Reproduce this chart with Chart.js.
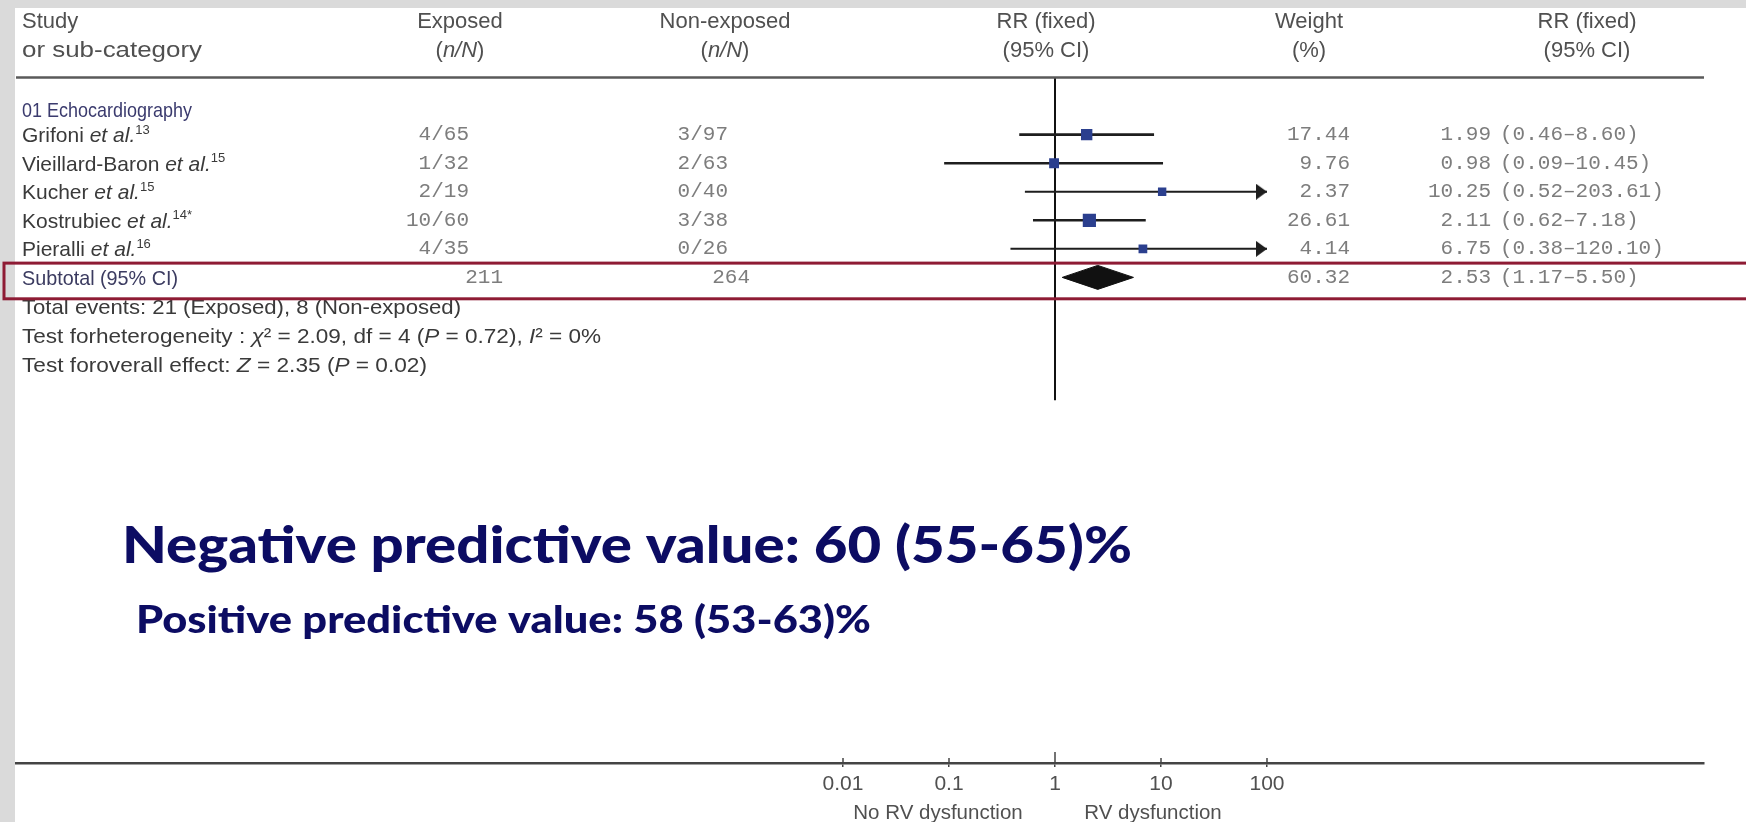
<!DOCTYPE html>
<html lang="en">
<head>
<meta charset="UTF-8">
<title>RV dysfunction – forest plot</title>
<script src="https://cdn.jsdelivr.net/npm/chart.js"></script>
<style>
  html, body { margin: 0; padding: 0; background: #ffffff; }
  #wrap { width: 1746px; height: 822px; }
</style>
</head>
<body>
<div id="wrap"><canvas id="forest" width="1746" height="822"></canvas></div>
<script>
// study rows, top to bottom
const studies = ['Grifoni', 'Vieillard-Baron', 'Kucher', 'Kostrubiec', 'Pieralli'];
const refs = ['13', '15', '15', '14*', '16'];
const exposed = ['4/65', '1/32', '2/19', '10/60', '4/35'];
const nonExposed = ['3/97', '2/63', '0/40', '3/38', '0/26'];
const weights = [17.44, 9.76, 2.37, 26.61, 4.14];
const rr = [1.99, 0.98, 10.25, 2.11, 6.75];
const ciLow = [0.46, 0.09, 0.52, 0.62, 0.38];
const ciHigh = [8.60, 10.45, 203.61, 7.18, 120.10];

// subtotal row
const subExposed = 211;
const subNonExposed = 264;
const subWeight = 60.32;
const subRR = 2.53;
const subLow = 1.17;
const subHigh = 5.50;

// axis
const tickValues = [0.01, 0.1, 1, 10, 100];
const tickLabels = ['0.01', '0.1', '1', '10', '100'];
const plotMax = 100; // CIs beyond this get an arrow

const footnotes = [
  [['Total events: 21 (Exposed), 8 (Non-exposed)', 'n']],
  [['Test forheterogeneity : ', 'n'], ['χ', 'i'], ['² = 2.09, df = 4 (', 'n'], ['P', 'i'], [' = 0.72), ', 'n'], ['I', 'i'], ['² = 0%', 'n']],
  [['Test foroverall effect: ', 'n'], ['Z', 'i'], [' = 2.35 (', 'n'], ['P', 'i'], [' = 0.02)', 'n']]
];
const footnoteWidths = [439, 579, 405];

const SANS = '"Liberation Sans", Arial, sans-serif';
const MONO = '"Liberation Mono", "DejaVu Sans Mono", monospace';
const FS = 21;

// layout: log axis with 1 at x=1055, ~106px per decade, chart area 16..1704
const ONE_PX = 1055, PX_DEC = 106, LEFT = 16, RIGHT = 1704;
const xMin = Math.pow(10, -(ONE_PX - LEFT) / PX_DEC);
const xMax = Math.pow(10, (RIGHT - ONE_PX) / PX_DEC);

function fontFor(style, size) {
  if (style === 'i') return `italic ${size}px ${SANS}`;
  if (style === 's') return `${Math.round(size * 0.62)}px ${SANS}`;
  return `${size}px ${SANS}`;
}

// draws mixed normal / italic / superscript runs; optional width squeezes or stretches the line
function drawRich(ctx, parts, x, y, size, color, align, width) {
  let total = 0;
  parts.forEach(([t, s]) => { ctx.font = fontFor(s, size); total += ctx.measureText(t).width; });
  const sx = width ? width / total : 1;
  const start = align === 'center' ? x - total * sx / 2 : x;
  ctx.save();
  ctx.translate(start, y + size * 0.36);
  ctx.scale(sx, 1);
  ctx.fillStyle = color;
  ctx.textAlign = 'left';
  ctx.textBaseline = 'alphabetic';
  let cx = 0;
  parts.forEach(([t, s]) => {
    ctx.font = fontFor(s, size);
    ctx.fillText(t, cx, s === 's' ? -size * 0.4 : 0);
    cx += ctx.measureText(t).width;
  });
  ctx.restore();
}

function mono(ctx, text, x, y, align) {
  ctx.font = `${FS}px ${MONO}`;
  ctx.fillStyle = '#7d7d7d';
  ctx.textAlign = align;
  ctx.textBaseline = 'middle';
  ctx.fillText(text, x, y);
}

function fitText(ctx, text, x, baseline, size, width) {
  ctx.font = `900 ${size}px Lato, "Open Sans", sans-serif`;
  const w = ctx.measureText(text).width;
  ctx.save();
  ctx.translate(x, baseline);
  ctx.scale(width / w, 1);
  ctx.fillStyle = '#0c0c63';
  ctx.textAlign = 'left';
  ctx.textBaseline = 'alphabetic';
  ctx.fillText(text, 0, 0);
  ctx.restore();
}

// arrow head with its tip at the centre of the image, so it ends exactly at plotMax
function arrowHead() {
  const c = document.createElement('canvas');
  c.width = 24;
  c.height = 16;
  const g = c.getContext('2d');
  g.fillStyle = '#1e1e1e';
  g.beginPath();
  g.moveTo(1, 0);
  g.lineTo(12, 8);
  g.lineTo(1, 16);
  g.closePath();
  g.fill();
  return c;
}

const pagePlugin = {
  id: 'page',
  beforeDraw(chart) {
    const ctx = chart.ctx;
    ctx.save();
    ctx.fillStyle = '#ffffff';
    ctx.fillRect(0, 0, chart.width, chart.height);
    ctx.fillStyle = '#dadada';
    ctx.fillRect(0, 0, chart.width, 8);
    ctx.fillRect(0, 0, 15, chart.height);
    ctx.restore();
  },
  afterDraw(chart) {
    const ctx = chart.ctx;
    const y = chart.scales.y, x = chart.scales.x;
    const py = v => y.getPixelForValue(v);
    ctx.save();

    // header
    const hc = '#505050', HS = 22;
    drawRich(ctx, [['Study', 'n']], 22, py(-4), HS, hc);
    drawRich(ctx, [['or sub-category', 'n']], 22, py(-3), HS, hc, 'left', 180);
    drawRich(ctx, [['Exposed', 'n']], 460, py(-4), HS, hc, 'center');
    drawRich(ctx, [['(', 'n'], ['n/N', 'i'], [')', 'n']], 460, py(-3), HS, hc, 'center');
    drawRich(ctx, [['Non-exposed', 'n']], 725, py(-4), HS, hc, 'center');
    drawRich(ctx, [['(', 'n'], ['n/N', 'i'], [')', 'n']], 725, py(-3), HS, hc, 'center');
    drawRich(ctx, [['RR (fixed)', 'n']], 1046, py(-4), HS, hc, 'center');
    drawRich(ctx, [['(95% CI)', 'n']], 1046, py(-3), HS, hc, 'center');
    drawRich(ctx, [['Weight', 'n']], 1309, py(-4), HS, hc, 'center');
    drawRich(ctx, [['(%)', 'n']], 1309, py(-3), HS, hc, 'center');
    drawRich(ctx, [['RR (fixed)', 'n']], 1587, py(-4), HS, hc, 'center');
    drawRich(ctx, [['(95% CI)', 'n']], 1587, py(-3), HS, hc, 'center');

    ctx.strokeStyle = '#5a5a5a';
    ctx.lineWidth = 2.5;
    ctx.beginPath();
    ctx.moveTo(LEFT, py(-2));
    ctx.lineTo(RIGHT, py(-2));
    ctx.stroke();

    drawRich(ctx, [['01 Echocardiography', 'n']], 22, py(-0.9), FS, '#3b3b6e', 'left', 170);

    studies.forEach((name, i) => {
      drawRich(ctx, [[name + ' ', 'n'], ['et al.', 'i'], [refs[i], 's']], 22, py(i), FS, '#3a3a3a');
      mono(ctx, exposed[i], 469, py(i), 'right');
      mono(ctx, nonExposed[i], 728, py(i), 'right');
      mono(ctx, weights[i].toFixed(2), 1350, py(i), 'right');
      mono(ctx, rr[i].toFixed(2), 1491, py(i), 'right');
      mono(ctx, '(' + ciLow[i].toFixed(2) + '–' + ciHigh[i].toFixed(2) + ')', 1500, py(i), 'left');
    });

    drawRich(ctx, [['Subtotal (95% CI)', 'n']], 22, py(5), FS, '#3b3b60', 'left', 156);
    mono(ctx, String(subExposed), 503, py(5), 'right');
    mono(ctx, String(subNonExposed), 750, py(5), 'right');
    mono(ctx, subWeight.toFixed(2), 1350, py(5), 'right');
    mono(ctx, subRR.toFixed(2), 1491, py(5), 'right');
    mono(ctx, '(' + subLow.toFixed(2) + '–' + subHigh.toFixed(2) + ')', 1500, py(5), 'left');

    footnotes.forEach((parts, k) => drawRich(ctx, parts, 22, py(6 + k * 1.03), FS, '#3a3a3a', 'left', footnoteWidths[k]));

    // highlight box round subtotal
    ctx.strokeStyle = '#8e1b34';
    ctx.lineWidth = 3;
    ctx.strokeRect(4, py(4.5), 1800, py(5.75) - py(4.5));

    fitText(ctx, 'Negative predictive value: 60 (55-65)%', 122, 563, 52, 1010);
    fitText(ctx, 'Positive predictive value: 58 (53-63)%', 136, 633, 37, 735);

    // tick marks also reach a little above the axis line
    const axisY = x.top;
    ctx.strokeStyle = '#444444';
    ctx.lineWidth = 1.5;
    tickValues.forEach(v => {
      const tx = x.getPixelForValue(v);
      ctx.beginPath();
      ctx.moveTo(tx, axisY - (v === 1 ? 11 : 5));
      ctx.lineTo(tx, axisY);
      ctx.stroke();
    });

    // axis captions
    const one = x.getPixelForValue(1);
    drawRich(ctx, [['No RV dysfunction', 'n']], one - 117, 812, 20.5, '#505050', 'center');
    drawRich(ctx, [['RV dysfunction', 'n']], one + 98, 812, 20.5, '#505050', 'center');
    ctx.restore();
  }
};

const ciSets = studies.map((s, i) => ({
  data: [{ x: ciLow[i], y: i }, { x: Math.min(ciHigh[i], plotMax), y: i }],
  showLine: true,
  borderColor: '#1e1e1e',
  borderWidth: ciHigh[i] > plotMax ? 2 : 2.6,
  pointRadius: 0,
  order: 4
}));

const arrowRows = studies.map((s, i) => i).filter(i => ciHigh[i] > plotMax);

new Chart(document.getElementById('forest'), {
  type: 'scatter',
  data: {
    datasets: [
      {
        // line of no effect
        data: [{ x: 1, y: -2 }, { x: 1, y: 9.3 }],
        showLine: true,
        borderColor: '#111111',
        borderWidth: 2,
        pointRadius: 0,
        order: 5
      },
      ...ciSets,
      {
        data: [{ x: subLow, y: 5 }, { x: subRR, y: 4.58 }, { x: subHigh, y: 5 }, { x: subRR, y: 5.42 }, { x: subLow, y: 5 }],
        showLine: true,
        fill: 'shape',
        backgroundColor: '#111111',
        borderColor: '#111111',
        borderWidth: 1,
        pointRadius: 0,
        order: 3
      },
      {
        data: arrowRows.map(i => ({ x: plotMax, y: i })),
        pointStyle: arrowHead(),
        pointRadius: 8,
        order: 2
      },
      {
        data: studies.map((s, i) => ({ x: rr[i], y: i })),
        pointStyle: 'rect',
        pointRadius: weights.map(w => 5.6 + w * 0.14),
        backgroundColor: '#2b3f8e',
        borderColor: '#2b3f8e',
        borderWidth: 0,
        order: 1
      }
    ]
  },
  options: {
    responsive: false,
    animation: false,
    devicePixelRatio: 1,
    layout: { padding: { left: LEFT, right: 1746 - RIGHT, top: 8, bottom: 0 } },
    plugins: { legend: { display: false }, tooltip: { enabled: false } },
    scales: {
      x: {
        type: 'logarithmic',
        position: 'bottom',
        min: xMin,
        max: xMax,
        bounds: 'data',
        afterBuildTicks: scale => { scale.ticks = tickValues.map(v => ({ value: v })); },
        afterFit: scale => { scale.height = 59; },
        border: { display: true, color: '#444444', width: 2.5 },
        grid: { display: true, drawOnChartArea: false, drawTicks: true, tickLength: 4, color: '#444444', lineWidth: 1.5 },
        ticks: {
          autoSkip: false,
          maxRotation: 0,
          padding: 5,
          color: '#505050',
          font: { family: SANS, size: 21 },
          callback: (v) => tickLabels[tickValues.indexOf(v)] ?? ''
        }
      },
      y: {
        type: 'linear',
        display: false,
        reverse: true,
        min: -4.39,
        max: 22.01
      }
    }
  },
  plugins: [pagePlugin]
});
</script>
</body>
</html>
